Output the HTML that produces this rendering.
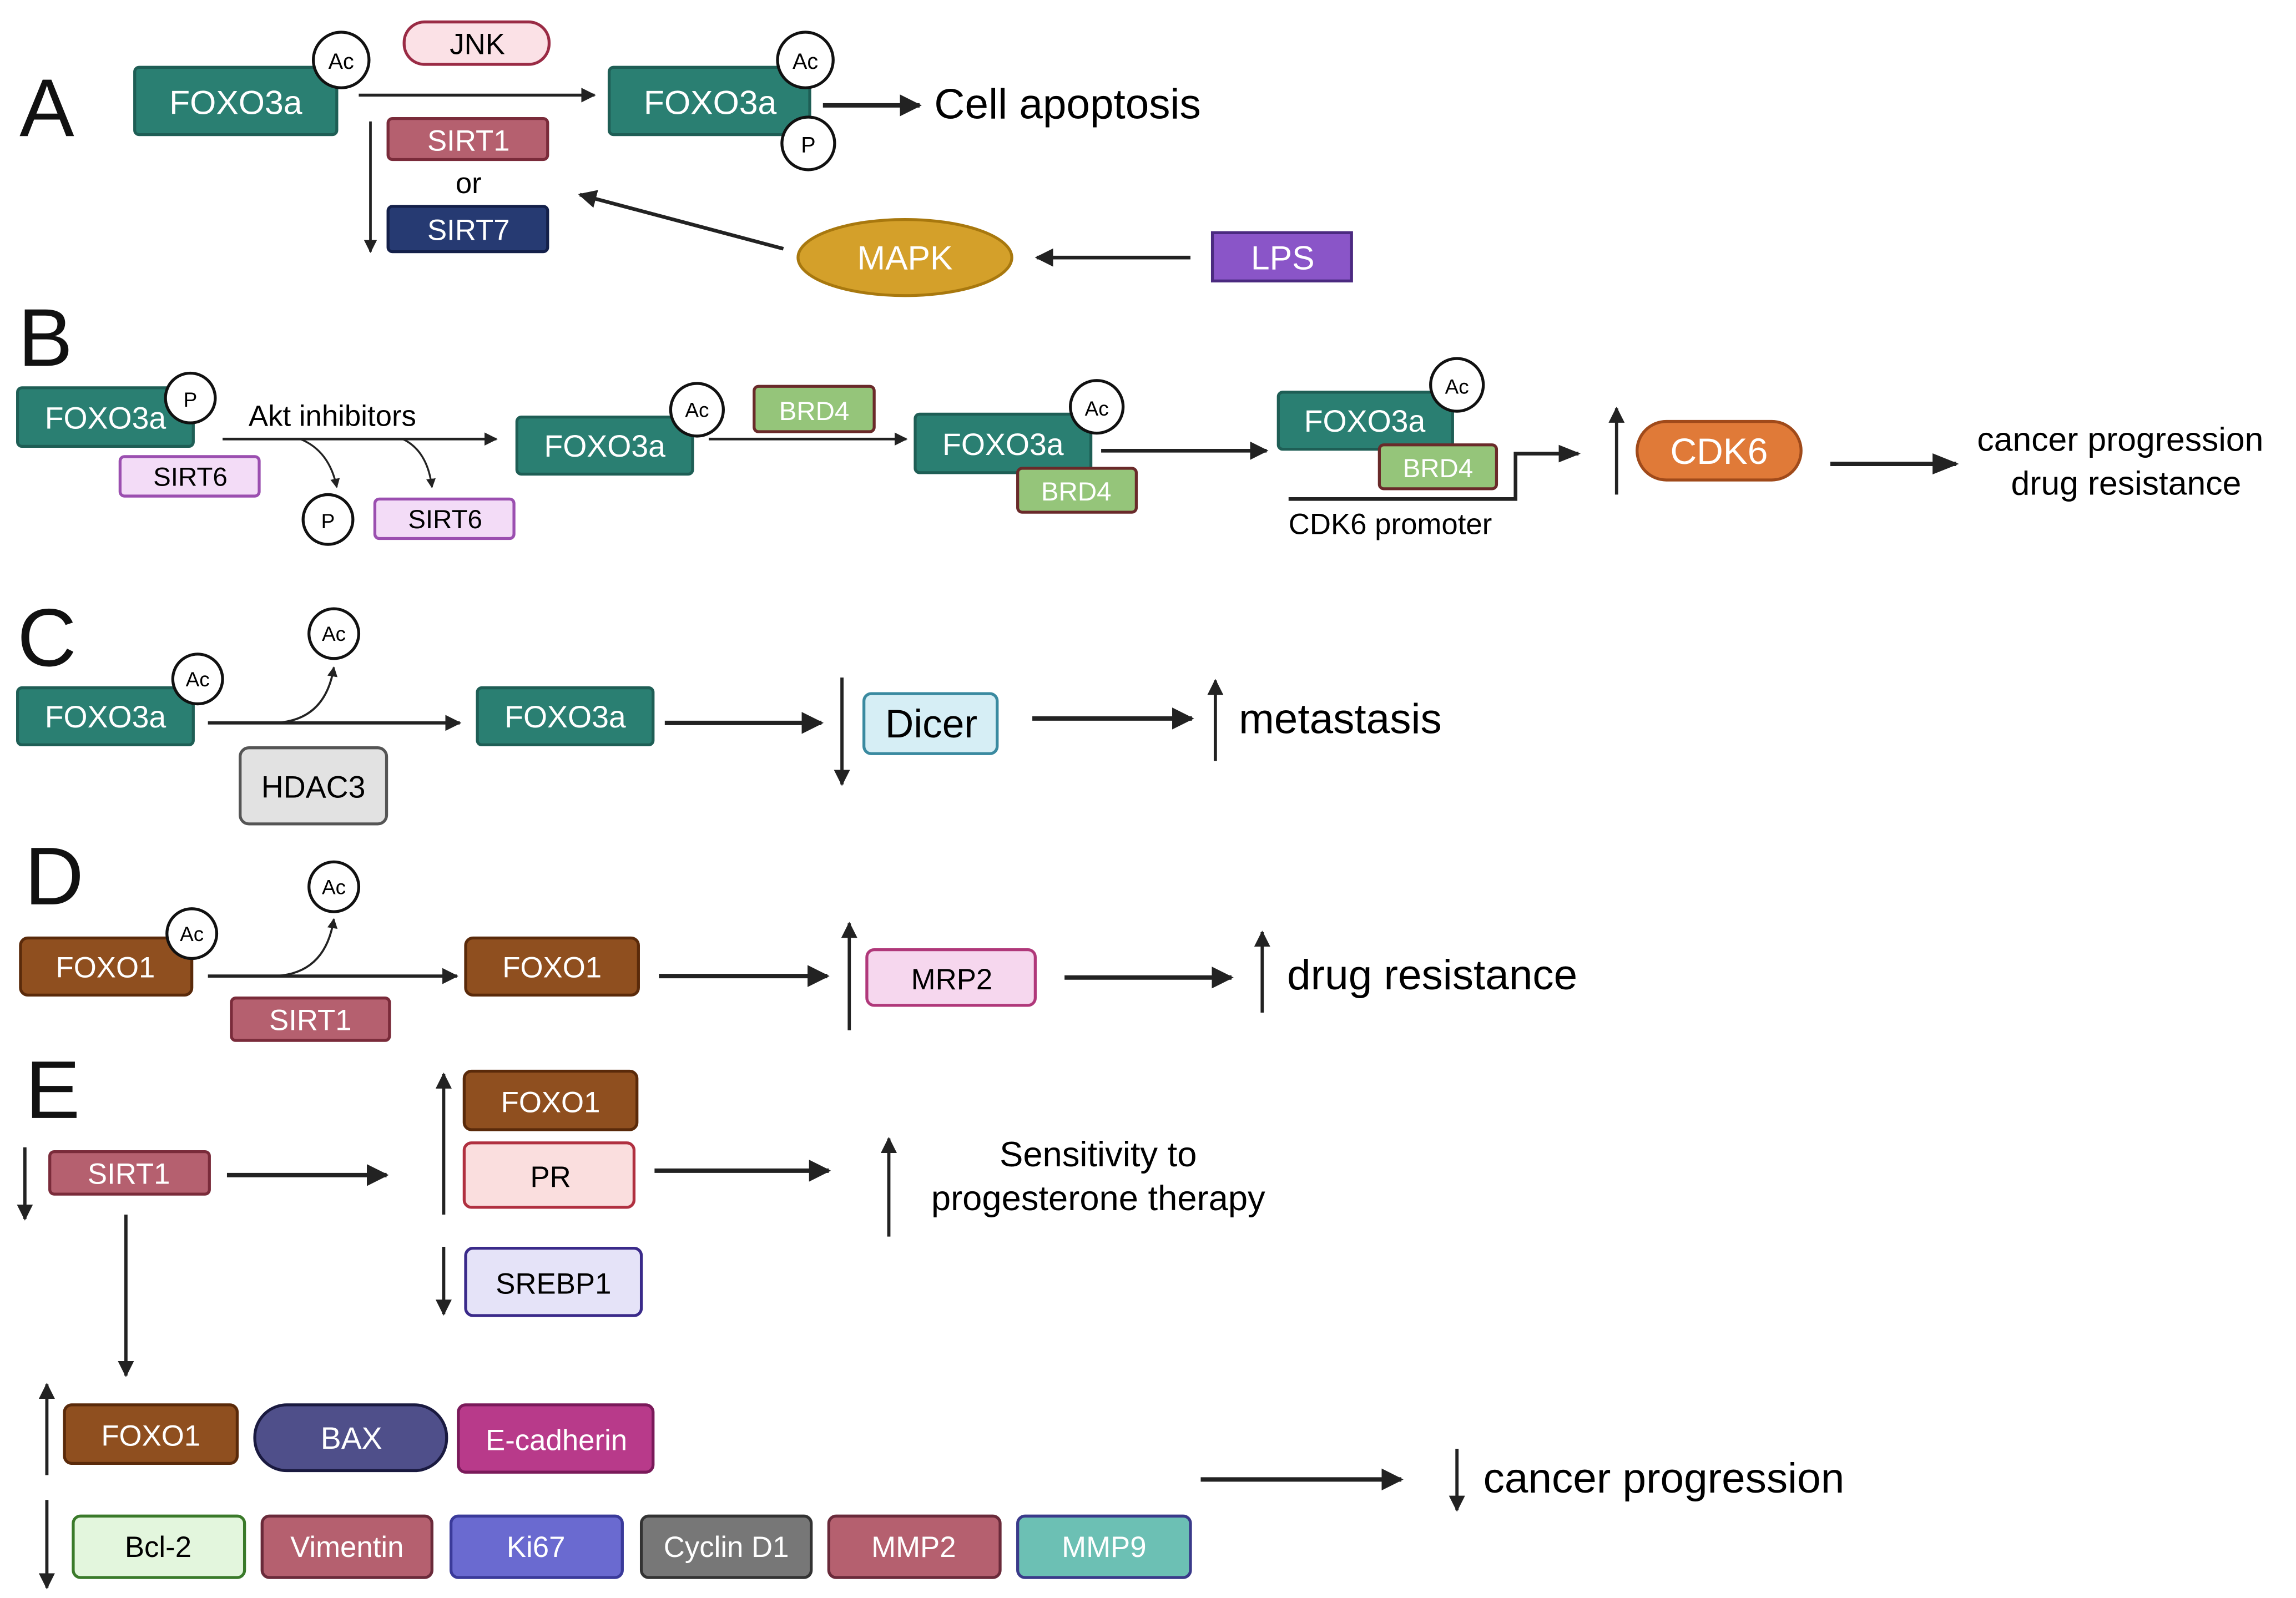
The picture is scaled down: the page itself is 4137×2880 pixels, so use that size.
<!DOCTYPE html>
<html><head><meta charset="utf-8"><style>
html,body{margin:0;padding:0;background:#fff;width:4137px;height:2880px;overflow:hidden}
svg{display:block}
text{font-family:"Liberation Sans",sans-serif}
.w{fill:#fff}.k{fill:#111}
</style></head><body>
<svg width="4137" height="2880" viewBox="0 0 1568 1092" preserveAspectRatio="none" xmlns="http://www.w3.org/2000/svg">
<defs>
<marker id="a" viewBox="0 0 10 10" refX="9" refY="5" markerWidth="5" markerHeight="5" orient="auto-start-reverse"><path d="M0,0L10,5L0,10z" fill="#222"/></marker>
<marker id="s" viewBox="0 0 10 10" refX="9" refY="5" markerWidth="6" markerHeight="6" orient="auto"><path d="M0,1L10,5L0,9z" fill="#222"/></marker>
</defs>
<g font-size="22" text-anchor="middle">
<!-- A -->
<text x="32" y="93" font-size="56" class="k">A</text>
<rect x="92" y="46" width="138" height="46" rx="3" fill="#2a7f72" stroke="#1e5e55" stroke-width="2"/><text x="161" y="78" class="w" font-size="23">FOXO3a</text>
<circle cx="233" cy="41" r="19" fill="#fff" stroke="#111" stroke-width="2"/><text x="233" y="47" font-size="15">Ac</text>
<rect x="276" y="15" width="99" height="29" rx="14" fill="#fbe1e6" stroke="#9a2b45" stroke-width="2"/><text x="326" y="37" font-size="20">JNK</text>
<line x1="245" y1="65" x2="406" y2="65" stroke="#222" stroke-width="2" marker-end="url(#a)"/>
<rect x="416" y="46" width="137" height="46" rx="3" fill="#2a7f72" stroke="#1e5e55" stroke-width="2"/><text x="485" y="78" class="w" font-size="23">FOXO3a</text>
<circle cx="550" cy="41" r="19" fill="#fff" stroke="#111" stroke-width="2"/><text x="550" y="47" font-size="15">Ac</text>
<circle cx="552" cy="98" r="18" fill="#fff" stroke="#111" stroke-width="2"/><text x="552" y="104" font-size="15">P</text>
<line x1="562" y1="72" x2="628" y2="72" stroke="#222" stroke-width="3" marker-end="url(#a)"/>
<text x="638" y="81" font-size="29" text-anchor="start">Cell apoptosis</text>
<rect x="265" y="81" width="109" height="28" rx="3" fill="#b5606f" stroke="#7a2b3a" stroke-width="2"/><text x="320" y="103" class="w" font-size="20">SIRT1</text>
<text x="320" y="132" font-size="20">or</text>
<rect x="265" y="141" width="109" height="31" rx="3" fill="#263a72" stroke="#14204a" stroke-width="2"/><text x="320" y="164" class="w" font-size="20">SIRT7</text>
<line x1="253" y1="83" x2="253" y2="172" stroke="#222" stroke-width="1.8" marker-end="url(#a)"/>
<ellipse cx="618" cy="176" rx="73" ry="26" fill="#d4a02a" stroke="#a8780e" stroke-width="2"/><text x="618" y="184" class="w" font-size="23">MAPK</text>
<line x1="535" y1="170" x2="396" y2="133" stroke="#222" stroke-width="2.5" marker-end="url(#a)"/>
<rect x="828" y="159" width="95" height="33" fill="#8a55c8" stroke="#4b2a80" stroke-width="2"/><text x="876" y="184" class="w" font-size="23">LPS</text>
<line x1="813" y1="176" x2="708" y2="176" stroke="#222" stroke-width="2.5" marker-end="url(#a)"/>
<!-- B -->
<text x="31" y="250" font-size="56" class="k">B</text>
<rect x="12" y="265" width="120" height="40" rx="3" fill="#2a7f72" stroke="#1e5e55" stroke-width="2"/><text x="72" y="293" class="w" font-size="21">FOXO3a</text>
<circle cx="130" cy="272" r="17" fill="#fff" stroke="#111" stroke-width="2"/><text x="130" y="278" font-size="14">P</text>
<text x="227" y="291" font-size="20">Akt inhibitors</text>
<line x1="152" y1="300" x2="339" y2="300" stroke="#222" stroke-width="1.8" marker-end="url(#a)"/>
<path d="M205,300 Q225,308 230,333" fill="none" stroke="#222" stroke-width="1.3" marker-end="url(#a)"/>
<path d="M275,300 Q292,308 295,333" fill="none" stroke="#222" stroke-width="1.3" marker-end="url(#a)"/>
<rect x="82" y="312" width="95" height="27" rx="3" fill="#f3dcf7" stroke="#9b4fb0" stroke-width="2"/><text x="130" y="332" font-size="18">SIRT6</text>
<circle cx="224" cy="355" r="17" fill="#fff" stroke="#111" stroke-width="2"/><text x="224" y="361" font-size="14">P</text>
<rect x="256" y="341" width="95" height="27" rx="3" fill="#f3dcf7" stroke="#9b4fb0" stroke-width="2"/><text x="304" y="361" font-size="18">SIRT6</text>
<rect x="353" y="285" width="120" height="39" rx="3" fill="#2a7f72" stroke="#1e5e55" stroke-width="2"/><text x="413" y="312" class="w" font-size="21">FOXO3a</text>
<circle cx="476" cy="280" r="18" fill="#fff" stroke="#111" stroke-width="2"/><text x="476" y="285" font-size="14">Ac</text>
<rect x="515" y="264" width="82" height="31" rx="3" fill="#95c57a" stroke="#6a2a2a" stroke-width="2"/><text x="556" y="287" class="w" font-size="18">BRD4</text>
<line x1="484" y1="300" x2="619" y2="300" stroke="#222" stroke-width="1.8" marker-end="url(#a)"/>
<rect x="625" y="283" width="120" height="40" rx="3" fill="#2a7f72" stroke="#1e5e55" stroke-width="2"/><text x="685" y="311" class="w" font-size="21">FOXO3a</text>
<circle cx="749" cy="278" r="18" fill="#fff" stroke="#111" stroke-width="2"/><text x="749" y="284" font-size="14">Ac</text>
<rect x="695" y="320" width="81" height="30" rx="3" fill="#95c57a" stroke="#6a2a2a" stroke-width="2"/><text x="735" y="342" class="w" font-size="18">BRD4</text>
<line x1="752" y1="308" x2="865" y2="308" stroke="#222" stroke-width="2.5" marker-end="url(#a)"/>
<rect x="873" y="268" width="119" height="39" rx="3" fill="#2a7f72" stroke="#1e5e55" stroke-width="2"/><text x="932" y="295" class="w" font-size="21">FOXO3a</text>
<circle cx="995" cy="263" r="18" fill="#fff" stroke="#111" stroke-width="2"/><text x="995" y="269" font-size="14">Ac</text>
<rect x="942" y="304" width="80" height="30" rx="3" fill="#95c57a" stroke="#6a2a2a" stroke-width="2"/><text x="982" y="326" class="w" font-size="18">BRD4</text>
<path d="M880,341 H1035 V310 H1078" fill="none" stroke="#222" stroke-width="2.5" marker-end="url(#s)"/>
<text x="880" y="365" font-size="20" text-anchor="start">CDK6 promoter</text>
<line x1="1104" y1="338" x2="1104" y2="279" stroke="#222" stroke-width="2.2" marker-end="url(#a)"/>
<rect x="1118" y="288" width="112" height="40" rx="20" fill="#e07a38" stroke="#a04a1a" stroke-width="2"/><text x="1174" y="317" class="w" font-size="25">CDK6</text>
<line x1="1250" y1="317" x2="1336" y2="317" stroke="#222" stroke-width="3" marker-end="url(#s)"/>
<text x="1448" y="308" font-size="23">cancer progression</text>
<text x="1452" y="338" font-size="23">drug resistance</text>
<!-- C -->
<text x="32" y="455" font-size="56" class="k">C</text>
<rect x="12" y="470" width="120" height="39" rx="3" fill="#2a7f72" stroke="#1e5e55" stroke-width="2"/><text x="72" y="497" class="w" font-size="21">FOXO3a</text>
<circle cx="135" cy="464" r="17" fill="#fff" stroke="#111" stroke-width="2"/><text x="135" y="469" font-size="14">Ac</text>
<line x1="142" y1="494" x2="314" y2="494" stroke="#222" stroke-width="2.2" marker-end="url(#a)"/>
<path d="M185,494 Q222,494 228,456" fill="none" stroke="#222" stroke-width="1.4" marker-end="url(#a)"/>
<circle cx="228" cy="433" r="17" fill="#fff" stroke="#111" stroke-width="2"/><text x="228" y="438" font-size="14">Ac</text>
<rect x="164" y="511" width="100" height="52" rx="6" fill="#e2e2e2" stroke="#555" stroke-width="2"/><text x="214" y="545" font-size="21">HDAC3</text>
<rect x="326" y="470" width="120" height="39" rx="3" fill="#2a7f72" stroke="#1e5e55" stroke-width="2"/><text x="386" y="497" class="w" font-size="21">FOXO3a</text>
<line x1="454" y1="494" x2="561" y2="494" stroke="#222" stroke-width="3" marker-end="url(#a)"/>
<line x1="575" y1="463" x2="575" y2="536" stroke="#222" stroke-width="2.2" marker-end="url(#a)"/>
<rect x="590" y="474" width="91" height="41" rx="5" fill="#d6eef5" stroke="#3a8aa0" stroke-width="2"/><text x="636" y="504" font-size="27">Dicer</text>
<line x1="705" y1="491" x2="814" y2="491" stroke="#222" stroke-width="3" marker-end="url(#a)"/>
<line x1="830" y1="520" x2="830" y2="465" stroke="#222" stroke-width="2.2" marker-end="url(#a)"/>
<text x="846" y="501" font-size="29" text-anchor="start">metastasis</text>
<!-- D -->
<text x="37" y="618" font-size="56" class="k">D</text>
<rect x="14" y="641" width="117" height="39" rx="5" fill="#8f4f1f" stroke="#5a2a0a" stroke-width="2"/><text x="72" y="668" class="w" font-size="20">FOXO1</text>
<circle cx="131" cy="638" r="17" fill="#fff" stroke="#111" stroke-width="2"/><text x="131" y="643" font-size="14">Ac</text>
<line x1="142" y1="667" x2="312" y2="667" stroke="#222" stroke-width="2.2" marker-end="url(#a)"/>
<path d="M185,667 Q222,667 228,628" fill="none" stroke="#222" stroke-width="1.4" marker-end="url(#a)"/>
<circle cx="228" cy="606" r="17" fill="#fff" stroke="#111" stroke-width="2"/><text x="228" y="611" font-size="14">Ac</text>
<rect x="158" y="682" width="108" height="29" rx="3" fill="#b5606f" stroke="#7a2b3a" stroke-width="2"/><text x="212" y="704" class="w" font-size="20">SIRT1</text>
<rect x="318" y="641" width="118" height="39" rx="5" fill="#8f4f1f" stroke="#5a2a0a" stroke-width="2"/><text x="377" y="668" class="w" font-size="20">FOXO1</text>
<line x1="450" y1="667" x2="565" y2="667" stroke="#222" stroke-width="3" marker-end="url(#a)"/>
<line x1="580" y1="704" x2="580" y2="631" stroke="#222" stroke-width="2.2" marker-end="url(#a)"/>
<rect x="592" y="649" width="115" height="38" rx="5" fill="#f6d7ee" stroke="#b0387a" stroke-width="2"/><text x="650" y="676" font-size="20">MRP2</text>
<line x1="727" y1="668" x2="841" y2="668" stroke="#222" stroke-width="3" marker-end="url(#a)"/>
<line x1="862" y1="692" x2="862" y2="637" stroke="#222" stroke-width="2.2" marker-end="url(#a)"/>
<text x="879" y="676" font-size="29" text-anchor="start">drug resistance</text>
<!-- E -->
<text x="36" y="764" font-size="56" class="k">E</text>
<line x1="17" y1="784" x2="17" y2="833" stroke="#222" stroke-width="2.2" marker-end="url(#a)"/>
<rect x="34" y="787" width="109" height="29" rx="3" fill="#b5606f" stroke="#7a2b3a" stroke-width="2"/><text x="88" y="809" class="w" font-size="20">SIRT1</text>
<line x1="155" y1="803" x2="264" y2="803" stroke="#222" stroke-width="3" marker-end="url(#a)"/>
<line x1="303" y1="830" x2="303" y2="734" stroke="#222" stroke-width="2.2" marker-end="url(#a)"/>
<rect x="317" y="732" width="118" height="40" rx="5" fill="#8f4f1f" stroke="#5a2a0a" stroke-width="2"/><text x="376" y="760" class="w" font-size="20">FOXO1</text>
<rect x="317" y="781" width="116" height="44" rx="5" fill="#fadede" stroke="#b03040" stroke-width="2"/><text x="376" y="811" font-size="20">PR</text>
<line x1="447" y1="800" x2="566" y2="800" stroke="#222" stroke-width="3" marker-end="url(#a)"/>
<line x1="607" y1="845" x2="607" y2="778" stroke="#222" stroke-width="2.2" marker-end="url(#a)"/>
<text x="750" y="797" font-size="24">Sensitivity to</text>
<text x="750" y="827" font-size="24">progesterone therapy</text>
<line x1="303" y1="852" x2="303" y2="898" stroke="#222" stroke-width="2.2" marker-end="url(#a)"/>
<rect x="318" y="853" width="120" height="46" rx="5" fill="#e5e3f8" stroke="#3a2a8a" stroke-width="2"/><text x="378" y="884" font-size="20">SREBP1</text>
<line x1="86" y1="830" x2="86" y2="940" stroke="#222" stroke-width="2.2" marker-end="url(#a)"/>
<line x1="32" y1="1008" x2="32" y2="946" stroke="#222" stroke-width="2.2" marker-end="url(#a)"/>
<rect x="44" y="960" width="118" height="40" rx="5" fill="#8f4f1f" stroke="#5a2a0a" stroke-width="2"/><text x="103" y="988" class="w" font-size="20">FOXO1</text>
<rect x="174" y="960" width="131" height="45" rx="22" fill="#4f4f8a" stroke="#1a1a40" stroke-width="2"/><text x="240" y="990" class="w" font-size="21">BAX</text>
<rect x="313" y="960" width="133" height="46" rx="5" fill="#b83a8a" stroke="#7a1a5a" stroke-width="2"/><text x="380" y="991" class="w" font-size="20">E-cadherin</text>
<line x1="32" y1="1025" x2="32" y2="1085" stroke="#222" stroke-width="2.2" marker-end="url(#a)"/>
<rect x="50" y="1036" width="117" height="42" rx="5" fill="#e3f6dd" stroke="#3a7a2a" stroke-width="2"/><text x="108" y="1064" font-size="20">Bcl-2</text>
<rect x="179" y="1036" width="116" height="42" rx="5" fill="#b5606f" stroke="#6a2a3a" stroke-width="2"/><text x="237" y="1064" class="w" font-size="20">Vimentin</text>
<rect x="308" y="1036" width="117" height="42" rx="5" fill="#6a6ad0" stroke="#3a3a9a" stroke-width="2"/><text x="366" y="1064" class="w" font-size="20">Ki67</text>
<rect x="438" y="1036" width="116" height="42" rx="5" fill="#777" stroke="#333" stroke-width="2"/><text x="496" y="1064" class="w" font-size="20">Cyclin D1</text>
<rect x="566" y="1036" width="117" height="42" rx="5" fill="#b5606f" stroke="#6a2a3a" stroke-width="2"/><text x="624" y="1064" class="w" font-size="20">MMP2</text>
<rect x="695" y="1036" width="118" height="42" rx="5" fill="#6cc0b4" stroke="#3a3a8a" stroke-width="2"/><text x="754" y="1064" class="w" font-size="20">MMP9</text>
<line x1="820" y1="1011" x2="957" y2="1011" stroke="#222" stroke-width="3" marker-end="url(#a)"/>
<line x1="995" y1="990" x2="995" y2="1032" stroke="#222" stroke-width="2.2" marker-end="url(#a)"/>
<text x="1013" y="1020" font-size="29" text-anchor="start">cancer progression</text>
</g>
</svg>
</body></html>
